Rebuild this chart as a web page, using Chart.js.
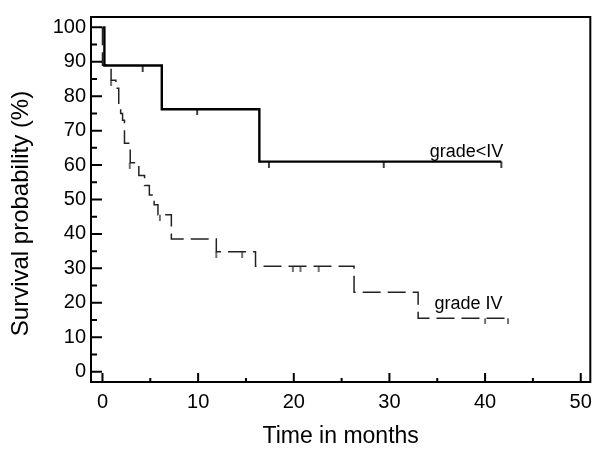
<!DOCTYPE html>
<html>
<head>
<meta charset="utf-8">
<script src="https://cdn.jsdelivr.net/npm/chart.js@4.4.0/dist/chart.umd.min.js"></script>
<style>
html, body { margin: 0; padding: 0; background: #fff; }
</style>
</head>
<body>
<canvas id="myChart" width="600" height="451"></canvas>
<script>
// grade < IV (linea continua)
const tiemposBajo = [0, 0.2, 6.2, 16.4, 41.7];
const valoresBajo = [100, 88.9, 76.2, 61, 61];
const censuraBajoT = [4.2, 9.9, 17.4, 29.4, 41.7];
const censuraBajoV = [88.9, 76.2, 61, 61, 61];

// grade IV (linea discontinua)
const tiemposAlto = [0, 0, 0.9, 1.4, 1.7, 1.9, 2.1, 2.3, 2.9, 3.8, 4.4, 4.9, 5.4, 5.8, 7.2, 11.9, 16.0, 26.3, 33.0, 42.4];
const valoresAlto = [100, 89, 84.6, 82.3, 77, 75, 73, 66.3, 60.7, 57, 54.1, 51.3, 48.5, 45.6, 38.5, 34.8, 30.6, 23.1, 15.5, 15.5];
const censuraAltoT = [0.9, 2.85, 6.0, 11.9, 14.6, 19.9, 20.7, 22.6, 40.0, 42.4];
const censuraAltoV = [84.6, 60.7, 45.6, 34.8, 34.8, 30.6, 30.6, 30.6, 15.5, 15.5];

const xTicks = [0, 10, 20, 30, 40, 50];
const xMinor = [5, 15, 25, 35, 45];
const yTicks = [0, 10, 20, 30, 40, 50, 60, 70, 80, 90, 100];
const yMinor = [5, 15, 25, 35, 45, 55, 65, 75, 85, 95];

const fuente = "'Liberation Sans', Arial, sans-serif";

const toPoints = (ts, vs) => ts.map((t, i) => ({x: t, y: vs[i]}));

// marca de censura: trazo vertical que cuelga bajo la curva
function marcaCensura(ancho, largo, color) {
    const c = document.createElement('canvas');
    c.width = 4;
    c.height = largo * 2;
    const g = c.getContext('2d');
    g.strokeStyle = color;
    g.lineWidth = ancho;
    g.beginPath();
    g.moveTo(2, largo);
    g.lineTo(2, largo * 2);
    g.stroke();
    return c;
}

const ejesPlugin = {
    id: 'ejes',
    afterDraw: (chart) => {
        const ctx = chart.ctx;
        const a = chart.chartArea;
        const x = chart.scales.x;
        const y = chart.scales.y;
        ctx.save();
        ctx.strokeStyle = '#000';
        ctx.lineWidth = 2;
        ctx.strokeRect(a.left, a.top, a.right - a.left, a.bottom - a.top);
        ctx.beginPath();
        xTicks.forEach(v => {
            const px = x.getPixelForValue(v);
            ctx.moveTo(px, a.bottom);
            ctx.lineTo(px, a.bottom - 9);
        });
        xMinor.forEach(v => {
            const px = x.getPixelForValue(v);
            ctx.moveTo(px, a.bottom);
            ctx.lineTo(px, a.bottom - 4);
        });
        yTicks.forEach(v => {
            const py = y.getPixelForValue(v);
            ctx.moveTo(a.left, py);
            ctx.lineTo(a.left + 11, py);
        });
        yMinor.forEach(v => {
            const py = y.getPixelForValue(v);
            ctx.moveTo(a.left, py);
            ctx.lineTo(a.left + 6, py);
        });
        ctx.stroke();

        ctx.fillStyle = '#000';
        ctx.font = '18px ' + fuente;
        ctx.textBaseline = 'alphabetic';
        ctx.textAlign = 'right';
        ctx.fillText('grade<IV', x.getPixelForValue(41.9), y.getPixelForValue(62.3));
        ctx.textAlign = 'left';
        ctx.fillText('grade IV', x.getPixelForValue(34.7), y.getPixelForValue(18.3));

        ctx.font = '24px ' + fuente;
        ctx.translate(21, (a.top + a.bottom) / 2 + 14);
        ctx.rotate(-Math.PI / 2);
        ctx.textAlign = 'center';
        ctx.textBaseline = 'middle';
        ctx.fillText('Survival probability (%)', 0, 0);
        ctx.restore();
    }
};

const config = {
    type: 'line',
    data: {
        datasets: [
            {
                label: 'grade<IV',
                data: toPoints(tiemposBajo, valoresBajo),
                stepped: true,
                borderColor: '#000',
                borderWidth: 2.4,
                pointRadius: 0
            },
            {
                label: 'grade IV',
                data: toPoints(tiemposAlto, valoresAlto),
                stepped: true,
                borderColor: '#222',
                borderWidth: 1.5,
                borderDash: [18, 7],
                pointRadius: 0
            },
            {
                label: 'censura grade<IV',
                data: toPoints(censuraBajoT, censuraBajoV),
                showLine: false,
                pointStyle: marcaCensura(1.5, 6, '#000'),
                pointRadius: 3
            },
            {
                label: 'censura grade IV',
                data: toPoints(censuraAltoT, censuraAltoV),
                showLine: false,
                pointStyle: marcaCensura(1.3, 6, '#222'),
                pointRadius: 3
            }
        ]
    },
    options: {
        responsive: false,
        animation: false,
        layout: {
            padding: { left: 0, right: 7, top: 6, bottom: 0 }
        },
        plugins: {
            legend: { display: false },
            tooltip: { enabled: false }
        },
        scales: {
            x: {
                type: 'linear',
                min: -1.2,
                max: 51,
                afterBuildTicks: (s) => { s.ticks = xTicks.map(v => ({value: v})); },
                afterFit: (s) => { s.height = 69; },
                grid: { display: false, drawTicks: false },
                border: { display: false },
                ticks: {
                    color: '#000',
                    padding: 8,
                    font: { family: fuente, size: 20 }
                },
                title: {
                    display: true,
                    text: 'Time in months',
                    color: '#000',
                    padding: { top: 0, bottom: 1 },
                    font: { family: fuente, size: 23 }
                }
            },
            y: {
                type: 'linear',
                min: -3,
                max: 103,
                afterBuildTicks: (s) => { s.ticks = yTicks.map(v => ({value: v})); },
                afterFit: (s) => { s.width = 91; },
                grid: { display: false, drawTicks: false },
                border: { display: false },
                ticks: {
                    color: '#000',
                    padding: 5,
                    font: { family: fuente, size: 20 }
                }
            }
        }
    },
    plugins: [ejesPlugin]
};

const myChart = new Chart(document.querySelector('#myChart').getContext('2d'), config);
</script>
</body>
</html>
